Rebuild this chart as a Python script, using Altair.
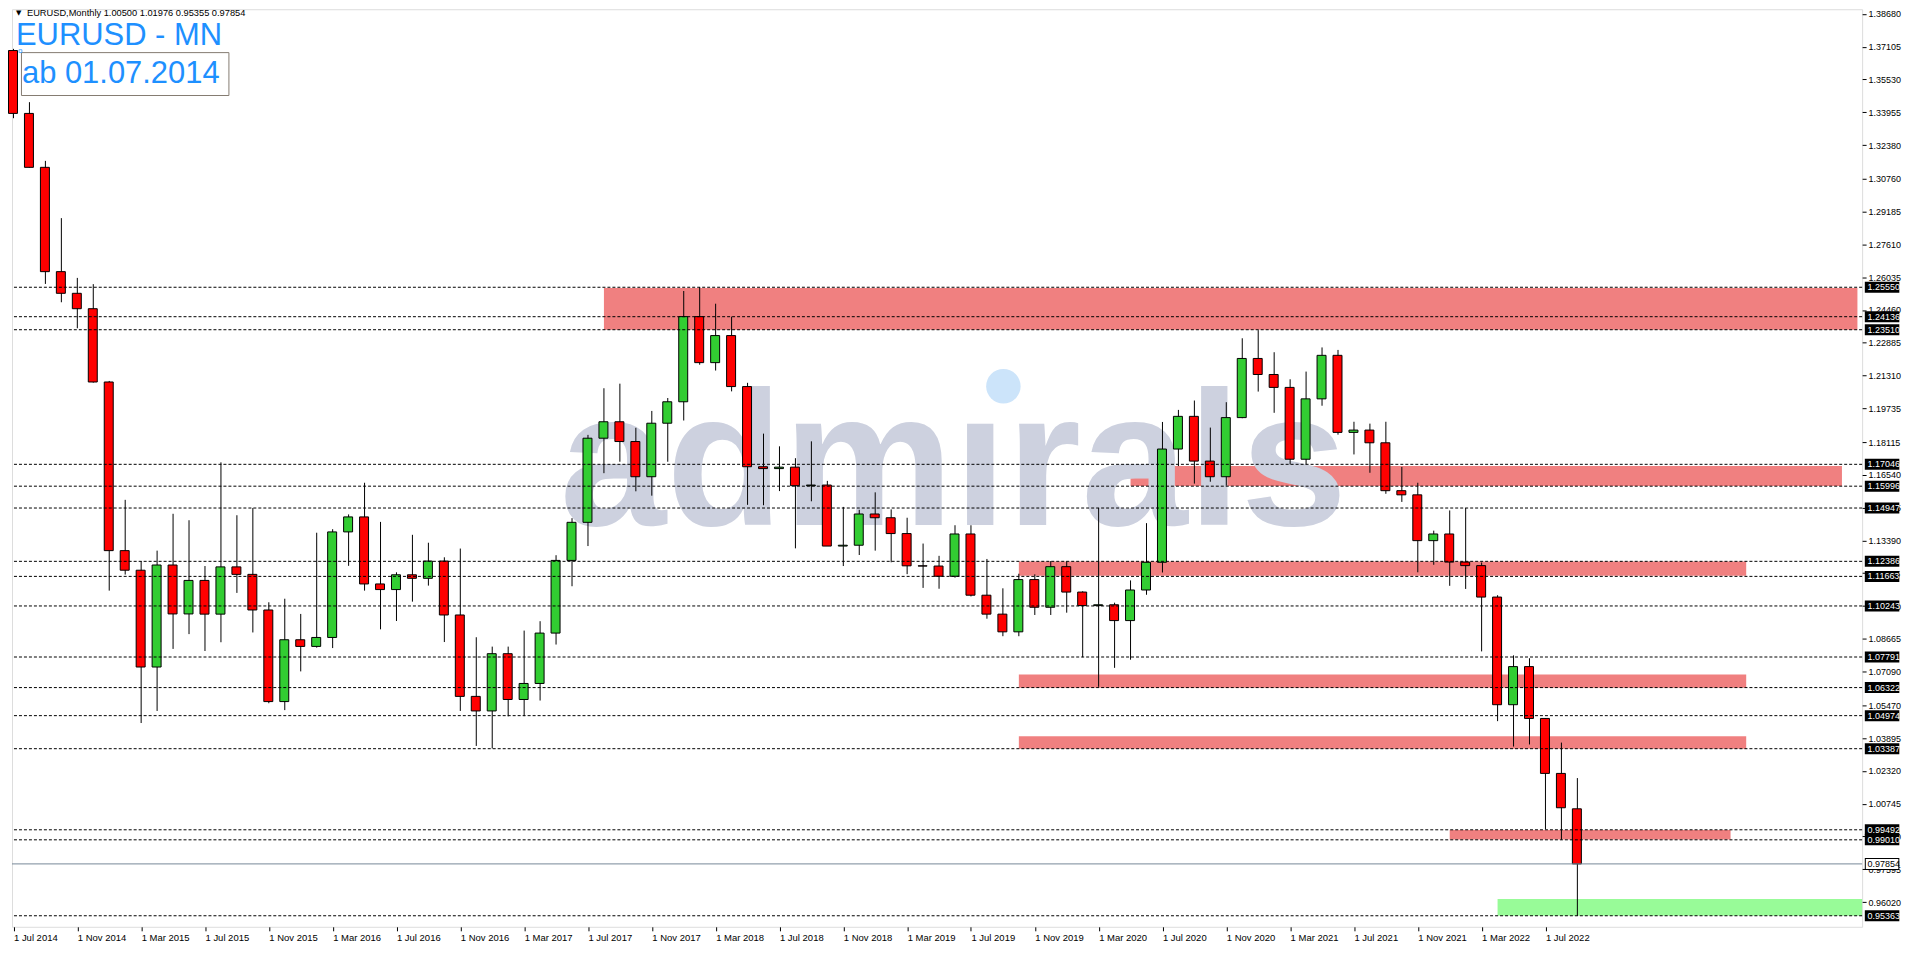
import altair as alt
import pandas as pd

# ---------------- data ----------------
first_year, first_month = 2014, 7
opens = [1.3692, 1.3390, 1.3131, 1.2630, 1.2526, 1.2452, 1.2100, 1.1290, 1.1196, 1.0731, 1.1221, 1.0986,
         1.1147, 1.0985, 1.1212, 1.1176, 1.1005, 1.0565, 1.0862, 1.0830, 1.0873, 1.1380, 1.1452, 1.1130,
         1.1103, 1.1174, 1.1157, 1.1240, 1.0981, 1.0590, 1.0520, 1.0795, 1.0575, 1.0652, 1.0894, 1.1243,
         1.1426, 1.1830, 1.1909, 1.1814, 1.1645, 1.1902, 1.2005, 1.2414, 1.2193, 1.2323, 1.2078, 1.1693,
         1.1684, 1.1691, 1.1602, 1.1605, 1.1312, 1.1316, 1.1466, 1.1448, 1.1372, 1.1217, 1.1216, 1.1167,
         1.1370, 1.1076, 1.0985, 1.0900, 1.1151, 1.1018, 1.1213, 1.1091, 1.1026, 1.1030, 1.0954, 1.1101,
         1.1234, 1.1778, 1.1935, 1.1720, 1.1645, 1.1929, 1.2213, 1.2136, 1.2074, 1.1729, 1.2019, 1.2228,
         1.1858, 1.1869, 1.1808, 1.1578, 1.1558, 1.1338, 1.1370, 1.1235, 1.1218, 1.1067, 1.0550, 1.0733,
         1.0484, 1.0220, 1.00500]
highs = [1.3700, 1.3444, 1.3162, 1.2887, 1.2600, 1.2570, 1.2105, 1.1534, 1.1240, 1.1290, 1.1467, 1.1436,
         1.1216, 1.1714, 1.1460, 1.1495, 1.1042, 1.1059, 1.0986, 1.1376, 1.1393, 1.1464, 1.1616, 1.1428,
         1.1186, 1.1366, 1.1328, 1.1258, 1.1300, 1.0874, 1.0829, 1.0829, 1.0906, 1.0951, 1.1268, 1.1446,
         1.1846, 1.2070, 1.2092, 1.1880, 1.1961, 1.2023, 1.2537, 1.2556, 1.2476, 1.2414, 1.2096, 1.1852,
         1.1791, 1.1734, 1.1815, 1.1625, 1.1500, 1.1486, 1.1570, 1.1488, 1.1448, 1.1324, 1.1265, 1.1412,
         1.1412, 1.1250, 1.1109, 1.1179, 1.1176, 1.1240, 1.1239, 1.1095, 1.1495, 1.1040, 1.1147, 1.1422,
         1.1908, 1.1966, 1.2011, 1.1881, 1.2003, 1.2310, 1.2349, 1.2243, 1.2113, 1.2150, 1.2266, 1.2254,
         1.1909, 1.1900, 1.1909, 1.1692, 1.1616, 1.1386, 1.1483, 1.1495, 1.1233, 1.1076, 1.0787, 1.0773,
         1.0486, 1.0368, 1.01976]
lows = [1.3367, 1.3130, 1.2571, 1.2483, 1.2358, 1.2097, 1.1098, 1.1175, 1.0462, 1.0520, 1.0818, 1.0889,
        1.0808, 1.0850, 1.1087, 1.0897, 1.0557, 1.0524, 1.0710, 1.0824, 1.0822, 1.1217, 1.1098, 1.0912,
        1.0952, 1.1045, 1.1122, 1.0851, 1.0520, 1.0352, 1.0340, 1.0494, 1.0495, 1.0570, 1.0839, 1.1119,
        1.1312, 1.1662, 1.1717, 1.1575, 1.1554, 1.1717, 1.1915, 1.2183, 1.2155, 1.2055, 1.1510, 1.1508,
        1.1576, 1.1301, 1.1527, 1.1335, 1.1216, 1.1269, 1.1290, 1.1234, 1.1177, 1.1111, 1.1107, 1.1160,
        1.1070, 1.0963, 1.0879, 1.0879, 1.0981, 1.0981, 1.0992, 1.0778, 1.0636, 1.0727, 1.0766, 1.1078,
        1.1185, 1.1696, 1.1612, 1.1621, 1.1602, 1.1926, 1.2054, 1.1952, 1.1704, 1.1704, 1.1986, 1.1847,
        1.1752, 1.1664, 1.1563, 1.1524, 1.1186, 1.1222, 1.1121, 1.1106, 1.0806, 1.0471, 1.0349, 1.0359,
        0.9952, 0.9901, 0.95355]
closes = [1.3390, 1.3131, 1.2630, 1.2526, 1.2452, 1.2100, 1.1290, 1.1196, 1.0731, 1.1221, 1.0986, 1.1147,
          1.0985, 1.1212, 1.1176, 1.1005, 1.0565, 1.0862, 1.0830, 1.0873, 1.1380, 1.1452, 1.1130, 1.1103,
          1.1174, 1.1157, 1.1240, 1.0981, 1.0590, 1.0520, 1.0795, 1.0575, 1.0652, 1.0894, 1.1243, 1.1426,
          1.1830, 1.1909, 1.1814, 1.1645, 1.1902, 1.2005, 1.2414, 1.2193, 1.2323, 1.2078, 1.1693, 1.1684,
          1.1691, 1.1602, 1.1605, 1.1312, 1.1316, 1.1466, 1.1448, 1.1372, 1.1217, 1.1216, 1.1167, 1.1370,
          1.1076, 1.0985, 1.0900, 1.1151, 1.1018, 1.1213, 1.1091, 1.1026, 1.1030, 1.0954, 1.1101, 1.1234,
          1.1778, 1.1935, 1.1720, 1.1645, 1.1929, 1.2213, 1.2136, 1.2074, 1.1729, 1.2019, 1.2228, 1.1858,
          1.1869, 1.1808, 1.1578, 1.1558, 1.1338, 1.1370, 1.1235, 1.1218, 1.1067, 1.0550, 1.0733, 1.0484,
          1.0220, 1.0055, 0.97854]

price_ticks = [1.38680, 1.37105, 1.35530, 1.33955, 1.32380, 1.30760, 1.29185, 1.27610, 1.26035, 1.24460,
               1.22885, 1.21310, 1.19735, 1.18115, 1.16540, 1.14965, 1.13390, 1.11815, 1.10240, 1.08665,
               1.07090, 1.05470, 1.03895, 1.02320, 1.00745, 0.99170, 0.97595, 0.96020, 0.94445]

level_prices = [1.25550, 1.24136, 1.23510, 1.17046, 1.15996, 1.14947, 1.12386, 1.11663, 1.10243,
                1.07791, 1.06322, 1.04974, 1.03387, 0.99492, 0.99010, 0.95363]
bid_price = 0.97854

# resistance zones (bar index where they start / end, price top / bottom)
zone_start = [37, 70, 63, 63, 63, 90]
zone_end = [115.55, 114.58, 108.58, 108.58, 108.58, 107.6]
zone_top = [1.2551, 1.1696, 1.1238, 1.0695, 1.0398, 0.9948]
zone_bottom = [1.2351, 1.1600, 1.1169, 1.0632, 1.0339, 0.9902]
# support zone
support_start, support_top, support_bottom = 93, 0.9617, 0.9536

header_text = "EURUSD,Monthly   1.00500 1.01976 0.95355 0.97854"
title_text = "EURUSD - MN"
subtitle_text = "ab 01.07.2014"
watermark_text = "admırals"

month_names = ["Jan", "Feb", "Mar", "Apr", "May", "Jun", "Jul", "Aug", "Sep", "Oct", "Nov", "Dec"]

# ---------------- layout ----------------
W, H = 1855, 920
SPACING = 16.0
X0 = -1.5 / SPACING
X1 = X0 + W / SPACING
Y0, Y1 = 0.94832, 1.38904
FONT = "Liberation Sans"

n = len(opens)


def month_label(i):
    m = first_month - 1 + i
    return f"1 {month_names[m % 12]} {first_year + m // 12}"


date_idx = list(range(0, n, 4))
date_labels = [month_label(i) for i in date_idx]
label_expr = "[" + ",".join(f"'{s}'" for s in date_labels) + "][round(datum.value/4)]"

candles = pd.DataFrame({"i": list(range(n)), "open": opens, "high": highs, "low": lows, "close": closes})
zones = pd.DataFrame({"x0": zone_start, "x1": zone_end, "y0": zone_top, "y1": zone_bottom})
support = pd.DataFrame({"x0": [support_start], "x1": [X1], "y0": [support_top], "y1": [support_bottom]})
levels = pd.DataFrame({"p": level_prices, "lab": [f"{v:.5f}" for v in level_prices]})
bid = pd.DataFrame({"p": [bid_price], "lab": [f"{bid_price:.5f}"]})

xs = alt.Scale(domain=[X0, X1], nice=False, zero=False)
ys = alt.Scale(domain=[Y0, Y1], nice=False, zero=False)
xax = alt.Axis(values=date_idx, labelExpr=label_expr, labelAlign="left", labelBaseline="top",
               labelFont=FONT, labelFontSize=9.5, labelColor="black", labelPadding=2,
               tickColor="black", tickSize=4, domain=False, grid=False, title="", labelOverlap=False,
               labelFlush=False)
yax = alt.Axis(values=price_ticks, format=".5f", orient="right", labelFont=FONT, labelFontSize=9,
               labelColor="black", labelPadding=2, tickColor="black", tickSize=4, domain=False,
               grid=False, title="", labelOverlap=False, labelFlush=False)

zone_layer = alt.Chart(zones).mark_rect(color="#F08080").encode(
    x=alt.X("x0:Q", scale=xs, axis=xax), x2="x1:Q",
    y=alt.Y("y0:Q", scale=ys, axis=yax), y2="y1:Q")

support_layer = alt.Chart(support).mark_rect(color="#98FB98").encode(
    x=alt.X("x0:Q", scale=xs, axis=xax), x2="x1:Q",
    y=alt.Y("y0:Q", scale=ys, axis=yax), y2="y1:Q")

wm = pd.DataFrame({"t": [watermark_text]})
watermark = alt.Chart(wm).mark_text(font=FONT, fontWeight="bold", fontSize=192, color="#CDD1DF",
                                    align="center", baseline="alphabetic").encode(
    x=alt.value(944), y=alt.value(517), text="t:N")
wm_dot = alt.Chart(wm).mark_point(shape="circle", filled=True, size=1195, color="#CCE4FA", opacity=1).encode(
    x=alt.value(994), y=alt.value(378))

wicks = alt.Chart(candles).mark_rule(color="black", strokeWidth=1).encode(
    x=alt.X("i:Q", scale=xs, axis=xax),
    y=alt.Y("low:Q", scale=ys, axis=yax), y2="high:Q")

bodies = alt.Chart(candles).transform_calculate(
    x0="datum.i - 0.3125", x1="datum.i + 0.25"
).mark_rect(stroke="black", strokeWidth=1).encode(
    x=alt.X("x0:Q", scale=xs, axis=xax), x2="x1:Q",
    y=alt.Y("open:Q", scale=ys, axis=yax), y2="close:Q",
    fill=alt.condition("datum.close >= datum.open", alt.value("#32CD32"), alt.value("#FF0000")))

level_lines = alt.Chart(levels).mark_rule(color="black", strokeWidth=1, strokeDash=[3, 2]).encode(
    y=alt.Y("p:Q", scale=ys, axis=yax))

bid_line = alt.Chart(bid).mark_rule(color="#778899", strokeWidth=1).encode(
    y=alt.Y("p:Q", scale=ys, axis=yax))

level_boxes = alt.Chart(levels).mark_rule(color="black", strokeWidth=11).encode(
    x=alt.value(W + 2.7), x2=alt.value(W + 37.3), y=alt.Y("p:Q", scale=ys, axis=yax))
level_text = alt.Chart(levels).mark_text(font=FONT, fontSize=9, color="white", align="left",
                                         baseline="middle").encode(
    x=alt.value(W + 5.5), y=alt.Y("p:Q", scale=ys, axis=yax), text="lab:N")

bid_box = alt.Chart(bid).mark_rule(color="black", strokeWidth=12).encode(
    x=alt.value(W + 2.7), x2=alt.value(W + 37.3), y=alt.Y("p:Q", scale=ys, axis=yax))
bid_inner = alt.Chart(bid).mark_rule(color="white", strokeWidth=10).encode(
    x=alt.value(W + 3.7), x2=alt.value(W + 36.3), y=alt.Y("p:Q", scale=ys, axis=yax))
bid_text = alt.Chart(bid).mark_text(font=FONT, fontSize=9, color="black", align="left",
                                    baseline="middle").encode(
    x=alt.value(W + 5.5), y=alt.Y("p:Q", scale=ys, axis=yax), text="lab:N")

texts = pd.DataFrame({"h": [header_text], "t": [title_text], "s": [subtitle_text]})
tri = alt.Chart(texts).mark_text(font="DejaVu Sans", fontSize=7, color="black", align="left",
                                 baseline="middle").encode(x=alt.value(4), y=alt.value(4), text=alt.value("▼"))
header = alt.Chart(texts).mark_text(font=FONT, fontSize=9.3, color="black", align="left",
                                    baseline="middle").encode(x=alt.value(15), y=alt.value(4), text="h:N")
title = alt.Chart(texts).mark_text(font=FONT, fontSize=31, color="#1E90FF", align="left",
                                   baseline="alphabetic").encode(x=alt.value(4), y=alt.value(36), text="t:N")
sub_box = alt.Chart(texts).mark_rect(fill="white", fillOpacity=0, stroke="#857B71", strokeWidth=1).encode(
    x=alt.value(9.5), x2=alt.value(217.5), y=alt.value(43.5), y2=alt.value(86.5))
subtitle = alt.Chart(texts).mark_text(font=FONT, fontSize=31, color="#1E90FF", align="left",
                                      baseline="alphabetic").encode(x=alt.value(10), y=alt.value(74), text="s:N")
anchor = alt.Chart(texts).mark_point(shape="square", filled=False, size=8, color="#1E90FF", strokeWidth=1).encode(
    x=alt.value(8.5), y=alt.value(42))

chart = alt.layer(
    zone_layer, support_layer, watermark, wm_dot, wicks, bodies, level_lines, bid_line,
    level_boxes, level_text, bid_box, bid_inner, bid_text,
    tri, header, title, sub_box, subtitle, anchor
).properties(
    width=W, height=H, padding={"left": 0, "top": 0, "right": 2, "bottom": 0}
).configure_view(
    stroke="black", strokeWidth=1
).configure(background="white")

chart.save("out.html", embed_options={"renderer": "svg", "actions": False})
